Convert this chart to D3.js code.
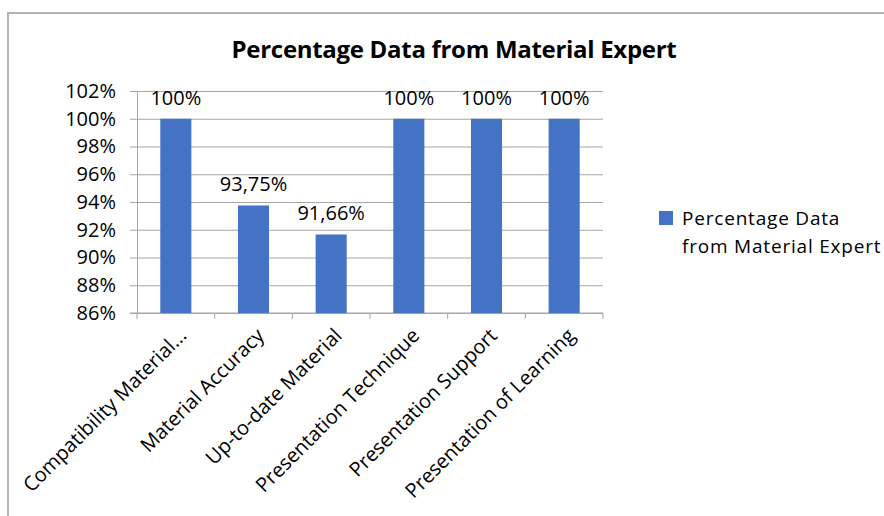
<html>
<head>
  <script src="https://d3js.org/d3.v7.min.js"></script>
  <style>
    body { margin: 0; background: #fff; }
    .gridlines line { stroke: #a6a6a6; }
    .gridlines .domain { stroke: none; }
    text { font-family: "Open Sans", sans-serif; fill: #000; }
  </style>
</head>
<body>
  <svg id="bargraph" width="884" height="516"></svg>
  <script>
    const categories = [
      'Compatibility Material...',
      'Material Accuracy',
      'Up-to-date Material',
      'Presentation Technique',
      'Presentation Support',
      'Presentation of Learning'
    ];
    const values = [100, 93.75, 91.66, 100, 100, 100];
    const valueLabels = ['100%', '93,75%', '91,66%', '100%', '100%', '100%'];
    const yTicks = [86, 88, 90, 92, 94, 96, 98, 100, 102];
    const seriesName = ['Percentage Data', 'from Material Expert'];
    const title = 'Percentage Data from Material Expert';

    const svg = d3.select('svg#bargraph');
    const margins = { top: 91, left: 137, right: 281, bottom: 203 };
    const chartWidth = 884 - margins.left - margins.right;
    const chartHeight = 516 - margins.top - margins.bottom;

    // outer chart border (only top and left visible in the picture)
    svg.append('rect')
      .attr('x', 8).attr('y', 13)
      .attr('width', 900).attr('height', 600)
      .attr('fill', 'none')
      .attr('stroke', '#b3b3b3')
      .attr('stroke-width', 2);

    svg.append('text')
      .text(title)
      .attr('x', 454).attr('y', 58)
      .attr('text-anchor', 'middle')
      .style('font-weight', 'bold')
      .style('font-size', '24px')
      .style('letter-spacing', '-0.3px');

    const chartArea = svg.append('g')
      .attr('transform', `translate(${margins.left},${margins.top})`);

    const xScale = d3.scaleBand()
      .domain(categories)
      .range([0, chartWidth])
      .paddingInner(0.6)
      .paddingOuter(0.3);

    const yScale = d3.scaleLinear()
      .domain([86, 102])
      .range([chartHeight, 0]);

    const leftGridlines = d3.axisLeft(yScale)
      .tickValues(yTicks)
      .tickSize(-chartWidth - 7)
      .tickFormat('');

    chartArea.append('g')
      .attr('class', 'gridlines')
      .attr('transform', 'translate(-7,0)')
      .call(leftGridlines)
      .selectAll('line').attr('x1', 0);

    const leftAxis = d3.axisLeft(yScale)
      .tickValues(yTicks)
      .tickSize(0)
      .tickPadding(21)
      .tickFormat(d => d + '%');

    const yAxisG = chartArea.append('g').call(leftAxis);
    yAxisG.select('.domain').attr('stroke', '#a6a6a6');
    yAxisG.selectAll('text')
      .style('font-family', '"Open Sans", sans-serif')
      .style('font-size', '20px');

    // bottom axis with ticks at category boundaries
    const step = xScale.step();
    const bottom = chartArea.append('g')
      .attr('transform', `translate(0,${chartHeight})`);
    bottom.append('line')
      .attr('x1', -7).attr('x2', chartWidth)
      .attr('stroke', '#a6a6a6');
    bottom.selectAll('line.tick')
      .data(d3.range(categories.length + 1))
      .join('line')
      .attr('class', 'tick')
      .attr('x1', i => i * step).attr('x2', i => i * step)
      .attr('y1', 0).attr('y2', 6)
      .attr('stroke', '#a6a6a6');

    bottom.selectAll('text.cat')
      .data(categories)
      .join('text')
      .attr('class', 'cat')
      .attr('transform', d => `translate(${xScale(d) + xScale.bandwidth() / 2 + 2},${14}) rotate(-45)`)
      .attr('text-anchor', 'end')
      .attr('dy', '0.7em')
      .style('font-size', '20px')
      .text(d => d);

    chartArea.selectAll('rect.bar')
      .data(values)
      .join('rect')
      .attr('class', 'bar')
      .attr('x', (d, i) => xScale(categories[i]))
      .attr('y', d => yScale(d))
      .attr('width', xScale.bandwidth())
      .attr('height', d => chartHeight - yScale(d))
      .attr('fill', '#4472c4');

    chartArea.selectAll('text.val')
      .data(values)
      .join('text')
      .attr('class', 'val')
      .attr('x', (d, i) => xScale(categories[i]) + xScale.bandwidth() / 2)
      .attr('y', d => yScale(d) - 14)
      .attr('text-anchor', 'middle')
      .style('font-size', '20px')
      .text((d, i) => valueLabels[i]);

    // legend
    const legend = svg.append('g').attr('transform', 'translate(659,211)');
    legend.append('rect')
      .attr('width', 14).attr('height', 14)
      .attr('fill', '#4472c4');
    legend.selectAll('text')
      .data(seriesName)
      .join('text')
      .attr('x', 23)
      .attr('y', (d, i) => 14 + i * 28)
      .style('font-size', '19px')
      .style('letter-spacing', '0.8px')
      .text(d => d);
  </script>
</body>
</html>
